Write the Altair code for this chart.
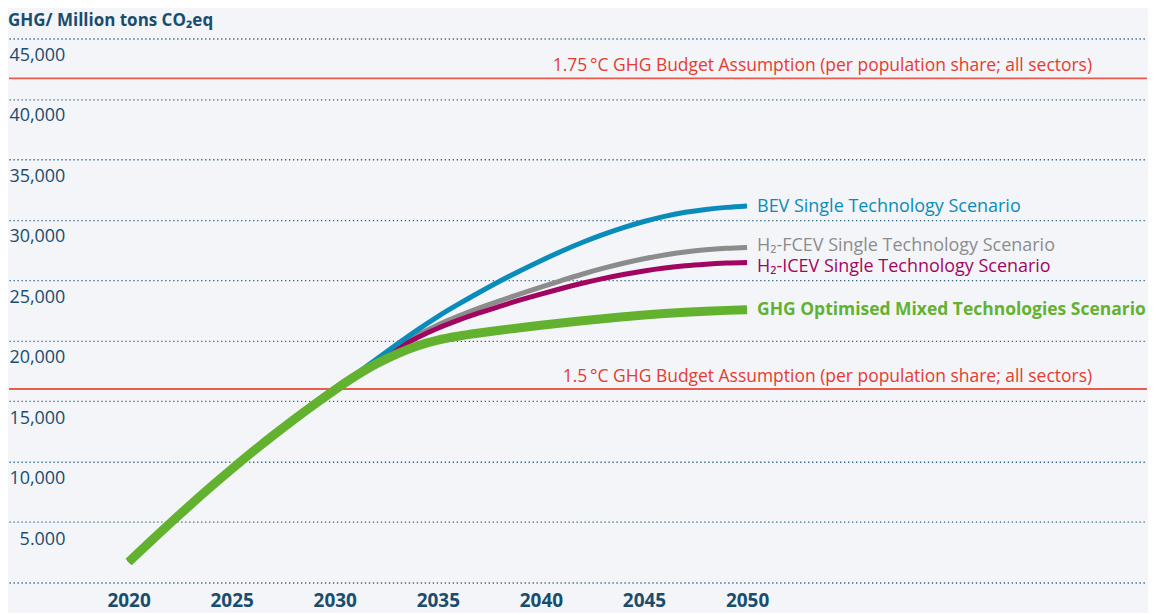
import altair as alt
import pandas as pd

years = list(range(2020, 2051))

common = [1700, 3300, 4880, 6430, 7930, 9380, 10790, 12150, 13460, 14720, 15930]
green_tail = [17070, 18070, 18900, 19570, 20050, 20380, 20640, 20870, 21080, 21280,
              21470, 21650, 21820, 21980, 22130, 22250, 22350, 22440, 22510, 22570]
bev_tail = [17200, 18450, 19680, 20880, 22000, 23020, 23990, 24920, 25790, 26620,
            27400, 28120, 28770, 29350, 29860, 30290, 30620, 30860, 31030, 31150]
fcev_tail = [17150, 18350, 19450, 20450, 21300, 22030, 22690, 23300, 23880, 24440,
             24980, 25500, 25980, 26410, 26780, 27090, 27340, 27520, 27640, 27710]
icev_tail = [17120, 18280, 19330, 20250, 21030, 21700, 22300, 22850, 23370, 23860,
             24320, 24750, 25140, 25480, 25770, 26010, 26200, 26330, 26420, 26470]

series_names = ["BEV", "FCEV", "ICEV", "GHG"]
series_values = {
    "BEV": common + bev_tail,
    "FCEV": common + fcev_tail,
    "ICEV": common + icev_tail,
    "GHG": common + green_tail,
}
series_labels = {
    "BEV": "BEV Single Technology Scenario",
    "FCEV": "H\u2082-FCEV Single Technology Scenario",
    "ICEV": "H\u2082-ICEV Single Technology Scenario",
    "GHG": "GHG Optimised Mixed Technologies Scenario",
}
budget_values = [41700, 16000]
budget_labels = [
    "1.75\u2009\u00b0C GHG Budget Assumption (per population share; all sectors)",
    "1.5\u2009\u00b0C GHG Budget Assumption (per population share; all sectors)",
]
x_ticks = [2020, 2025, 2030, 2035, 2040, 2045, 2050]
y_ticks = list(range(0, 45001, 5000))

# styles
colors = {"BEV": "#0a8cba", "FCEV": "#8c8c8c", "ICEV": "#a2055f", "GHG": "#63b22f"}
widths = {"BEV": 5, "FCEV": 5, "ICEV": 5, "GHG": 9}
label_dy = {"BEV": 1, "FCEV": -2, "ICEV": 5, "GHG": 0}
label_bold = {"BEV": "normal", "FCEV": "normal", "ICEV": "normal", "GHG": "bold"}
label_size = {"BEV": 18, "FCEV": 18, "ICEV": 18, "GHG": 17.5}
DARK = "#1a4d6d"
FONT = "Open Sans"

rows = []
for s in series_names:
    for yr, v in zip(years, series_values[s]):
        rows.append({"series": s, "year": yr, "value": v})
df = pd.DataFrame(rows)

xs = alt.Scale(domain=[2014.2, 2069.4], nice=False, zero=False)
ys = alt.Scale(domain=[0, 45000], nice=False)

x_axis = alt.Axis(values=x_ticks, format="d", title=None, grid=False, domain=False,
                  ticks=False, labelFontSize=19, labelFontWeight="bold",
                  labelColor=DARK, labelPadding=9, labelFont=FONT)
y_axis = alt.Axis(values=y_ticks, title=None, grid=True, domain=False, ticks=False,
                  gridColor="#2f6384", gridDash=[1.3, 2.7], gridWidth=1.3,
                  labelAlign="right", labelPadding=-56, labelOffset=17,
                  labelFontSize=18, labelColor=DARK, labelFont=FONT,
                  labelExpr="datum.value == 0 ? '' : (datum.value == 5000 ? '5.000' : format(datum.value, ','))")

base = alt.Chart(df)

axes_layer = base.mark_point(opacity=0).encode(
    x=alt.X("year:Q", scale=xs, axis=x_axis),
    y=alt.Y("value:Q", scale=ys, axis=y_axis),
)

bud_df = pd.DataFrame({"value": budget_values, "label": budget_labels})
rules = alt.Chart(bud_df).mark_rule(color="#ec5b4f", strokeWidth=2).encode(
    y=alt.Y("value:Q", scale=ys)
)
rule_text = alt.Chart(bud_df).mark_text(
    align="right", baseline="middle", dy=-12, fontSize=17.5, font=FONT, color="#e63c2f"
).encode(x=alt.value(1085), y=alt.Y("value:Q", scale=ys), text="label:N")

layers = [axes_layer, rules, rule_text]
for s in ["FCEV", "ICEV", "BEV", "GHG"]:
    layers.append(
        base.transform_filter(alt.datum.series == s).mark_line(
            color=colors[s], strokeWidth=widths[s], interpolate="monotone", strokeCap="butt"
        ).encode(x=alt.X("year:Q", scale=xs), y=alt.Y("value:Q", scale=ys))
    )

lab_df = pd.DataFrame({
    "series": series_names,
    "year": [years[-1]] * 4,
    "value": [series_values[s][-1] for s in series_names],
    "label": [series_labels[s] for s in series_names],
})
for s in series_names:
    layers.append(
        alt.Chart(lab_df).transform_filter(alt.datum.series == s).mark_text(
            align="left", baseline="middle", dx=10, dy=label_dy[s], fontSize=label_size[s],
            font=FONT, fontWeight=label_bold[s], color=colors[s]
        ).encode(x=alt.X("year:Q", scale=xs), y=alt.Y("value:Q", scale=ys), text="label:N")
    )

chart = alt.layer(*layers).properties(
    width=1140, height=545,
    padding={"left": 0, "top": 3, "right": 0, "bottom": 2},
    title=alt.TitleParams("GHG/ Million tons CO\u2082eq", anchor="start", fontSize=17,
                          fontWeight="bold", color=DARK, font=FONT, offset=9),
).configure(background="#f3f5f9").configure_view(stroke=None)

chart.save("out.html", embed_options={"renderer": "svg", "actions": False})
